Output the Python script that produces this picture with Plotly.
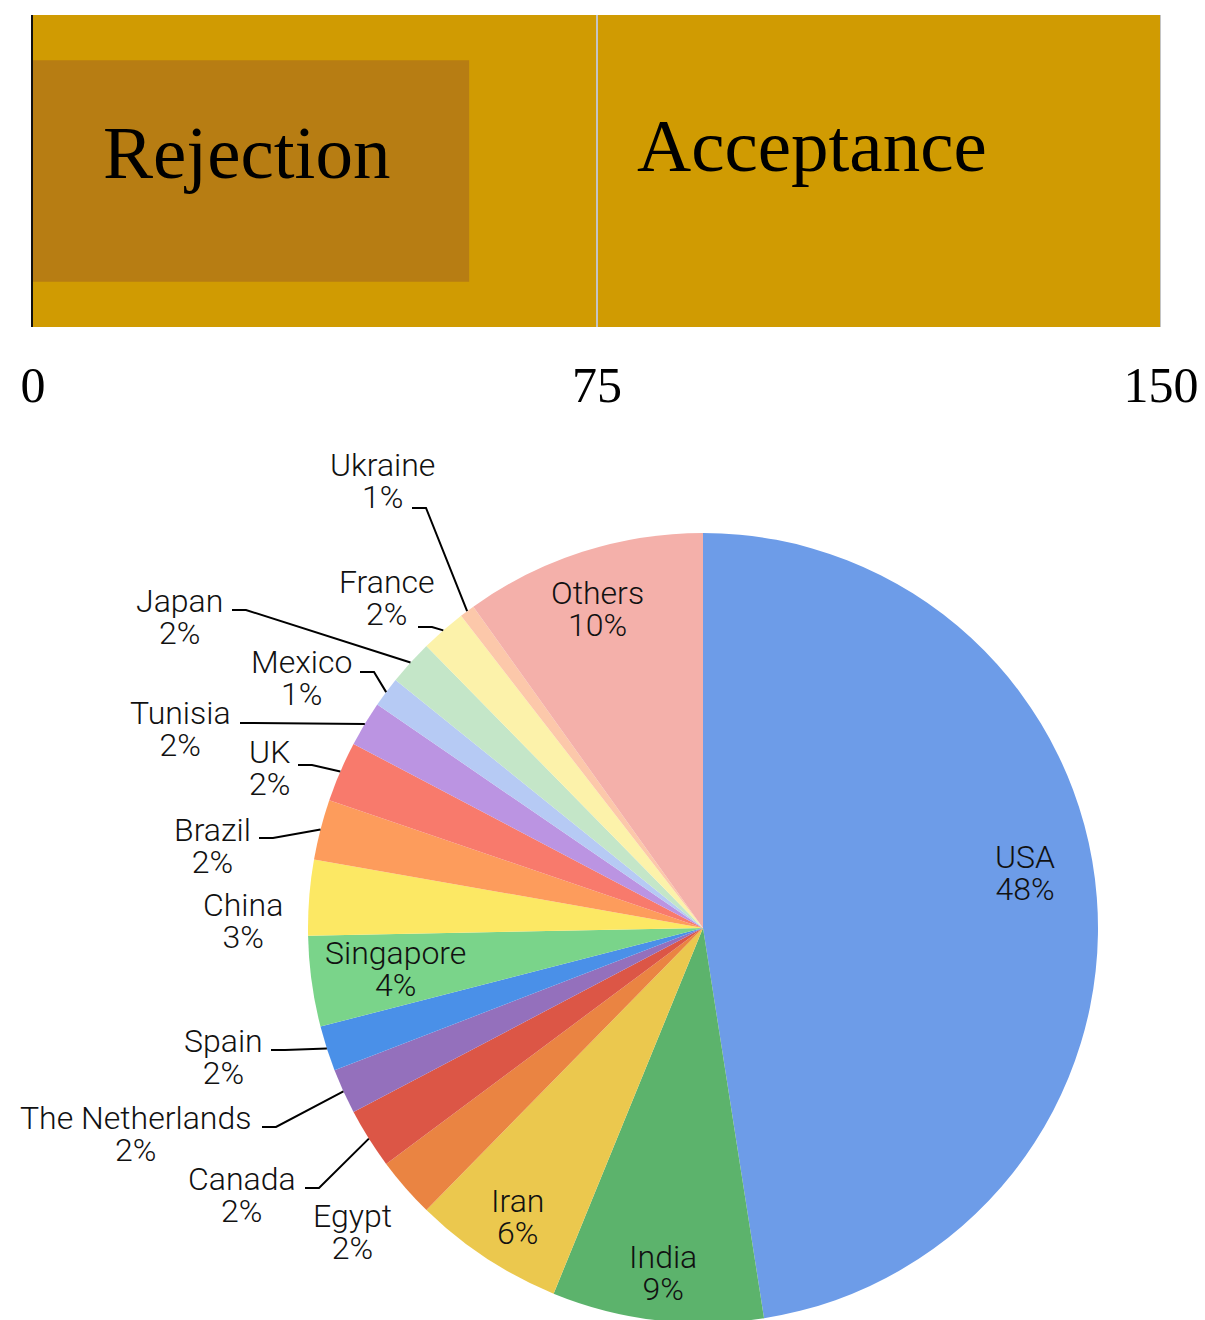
import math
import plotly.graph_objects as go

W, H = 1205, 1320
OFF = 8  # the page body margin shifts the figure by 8px

# top bar
axis_ticks = [0, 75, 150]
acceptance_total = 150
rejection_value = 58

# pie data (counts, clockwise from 12 o'clock)
countries = ["USA", "India", "Iran", "Egypt", "Canada", "The Netherlands", "Spain",
             "Singapore", "China", "Brazil", "UK", "Tunisia", "Mexico", "Japan",
             "France", "Ukraine", "Others"]
counts = [77, 14, 10, 4, 4, 3, 3, 6, 5, 4, 4, 3, 2, 3, 3, 1, 16]
colors = ["#6d9ce8", "#5cb36c", "#ebc84e", "#ea8442", "#dc5646", "#9470bc", "#4a90e8",
          "#7ad48a", "#fce864", "#fd9c5c", "#f87a6c", "#bb94e2", "#b6caf4", "#c4e6c8",
          "#fcf2aa", "#fcc8aa", "#f4b0aa"]

# label placement (screen pixels): text centre, start of the leader line (None = no line)
label_pos = {
    "USA": (1025, 873, None), "India": (663, 1273, None), "Iran": (517, 1217, None),
    "Singapore": (395, 969, None), "Others": (597, 609, None),
    "Ukraine": (382, 481, (412, 508)), "France": (387, 598, (418, 627)),
    "Japan": (179, 617, (232, 610)), "Mexico": (301, 678, (360, 672)),
    "Tunisia": (180, 729, (240, 723)), "UK": (269, 768, (298, 765)),
    "Brazil": (212, 846, (259, 838)), "China": (243, 921, None),
    "Spain": (223, 1057, (271, 1050)), "The Netherlands": (135, 1134, (262, 1127)),
    "Canada": (242, 1195, (305, 1188)), "Egypt": (352, 1232, None),
}


def fx(p):
    return (p - OFF) / W


def fy(p):
    return 1 - (p - OFF) / H


fig = go.Figure()

fig.add_trace(go.Bar(x=[acceptance_total], y=[0], orientation="h", width=1,
                     marker=dict(color="#d09b02", line=dict(width=0)),
                     hoverinfo="skip", showlegend=False))
fig.add_trace(go.Bar(x=[rejection_value], y=[0], orientation="h", width=0.71,
                     marker=dict(color="#b77d13", line=dict(width=0)),
                     hoverinfo="skip", showlegend=False))

pie_dx = [fx(703 - 395), fx(703 + 395)]
pie_dy = [fy(928 + 395), fy(928 - 395)]
fig.add_trace(go.Pie(labels=countries, values=counts, sort=False, direction="clockwise",
                     rotation=0, marker=dict(colors=colors, line=dict(width=0)),
                     textinfo="none", hoverinfo="skip", showlegend=False,
                     domain=dict(x=pie_dx, y=pie_dy)))

annotations = [
    dict(x=rejection_value / 2 - 0.6, y=0, xref="x", yref="y", text="Rejection",
         showarrow=False, yshift=18,
         font=dict(family="Liberation Serif", size=75, color="black")),
    dict(x=103.6, y=0, xref="x", yref="y", text="Acceptance", showarrow=False,
         yshift=25, font=dict(family="Liberation Serif", size=75, color="black")),
]
shapes = []
for t in axis_ticks[1:]:
    shapes.append(dict(type="line", xref="x", yref="y domain", x0=t, x1=t, y0=0, y1=1,
                       line=dict(color="#c4c4c4", width=2), layer="above"))

# pie geometry for leader lines (screen pixels)
cx = (pie_dx[0] + pie_dx[1]) / 2 * W + OFF
cy = (1 - (pie_dy[0] + pie_dy[1]) / 2) * H + OFF
r = min((pie_dx[1] - pie_dx[0]) * W, (pie_dy[1] - pie_dy[0]) * H) / 2
total = sum(counts)
# base size sets the line spacing (1.3em = 32px), spans set the glyph size
label_font = dict(family="Roboto", size=24.6, color="#111111", weight=300)
span = "<span style='font-size:32px'>{}</span>"
cum = 0
for name, v in zip(countries, counts):
    theta = 2 * math.pi * (cum + v / 2) / total
    cum += v
    tx, ty, start = label_pos[name]
    text = span.format(name) + "<br>" + span.format(f"{v / total:.0%}")
    annotations.append(dict(x=fx(tx), y=fy(ty), xref="paper", yref="paper",
                            xanchor="center", yanchor="middle", text=text,
                            showarrow=False, font=label_font))
    if start:
        tipx = cx + r * math.sin(theta)
        tipy = cy - r * math.cos(theta)
        sx, sy = start
        ex = sx + 14 if tipx - sx > 14 else tipx
        path = f"M {fx(sx)},{fy(sy)} L {fx(ex)},{fy(sy)} L {fx(tipx)},{fy(tipy)}"
        shapes.append(dict(type="path", xref="paper", yref="paper", path=path,
                           line=dict(color="black", width=2)))

fig.update_layout(
    width=W, height=H, margin=dict(l=0, r=0, t=0, b=0),
    paper_bgcolor="white", plot_bgcolor="white", barmode="overlay",
    annotations=annotations, shapes=shapes,
    xaxis=dict(domain=[fx(33), fx(1161)], range=[0, 150], tickvals=axis_ticks,
               ticks="outside", ticklen=14, tickcolor="rgba(0,0,0,0)", automargin=False,
               showgrid=False, zeroline=False, showline=False,
               tickfont=dict(family="Liberation Serif", size=50, color="black")),
    yaxis=dict(domain=[fy(327), fy(15)], range=[-0.5, 0.5], showticklabels=False,
               showgrid=False, zeroline=False, showline=True, linecolor="#111111",
               linewidth=2, layer="above traces", automargin=False),
)

fig.write_html("out.html")
